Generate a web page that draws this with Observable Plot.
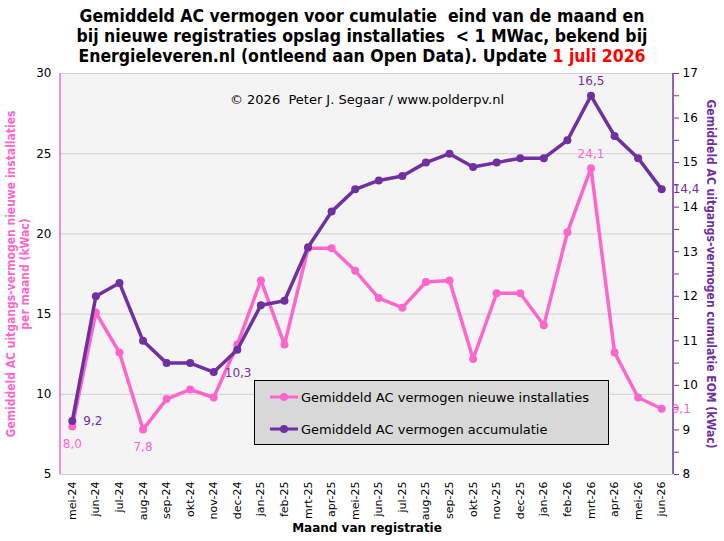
<!DOCTYPE html>
<html><head><meta charset="utf-8">
<script src="https://cdn.jsdelivr.net/npm/d3@7"></script>
<script src="https://cdn.jsdelivr.net/npm/@observablehq/plot@0.6"></script>
<style>
body{margin:0;background:#fff;font-family:"DejaVu Sans",sans-serif;}
#wrap{position:relative;width:724px;height:541px;overflow:hidden;}
#title{height:64px;text-align:center;font-family:"DejaVu Sans Condensed","DejaVu Sans",sans-serif;font-weight:bold;font-size:17.5px;line-height:20px;padding-top:6px;box-sizing:border-box;color:#000;white-space:nowrap;}
#title .red{color:#ff0000;}
#legend{position:absolute;left:254px;top:380px;width:355px;height:65px;box-sizing:border-box;background:#d8d8d8;border:1px solid #000;font-size:13px;}
.row{position:absolute;left:0;height:20px;display:flex;align-items:center;}
.row span{margin-left:2px;}
</style></head>
<body><div id="wrap">
<div id="title">Gemiddeld AC vermogen voor cumulatie&nbsp; eind van de maand en<br>bij nieuwe registraties opslag installaties&nbsp; &lt; 1 MWac, bekend bij<br>Energieleveren.nl (ontleend aan Open Data). Update <span class="red">1 juli 2026</span></div>
<div id="chart"></div>
<div id="legend">
 <div class="row" style="top:6px;left:14px"><svg width="30" height="20"><line x1="1" x2="29" y1="10" y2="10" stroke="#ff66cc" stroke-width="3"/><circle cx="15" cy="10" r="4" fill="#ff66cc"/></svg><span>Gemiddeld AC vermogen nieuwe installaties</span></div>
 <div class="row" style="top:38px;left:14px"><svg width="30" height="20"><line x1="1" x2="29" y1="10" y2="10" stroke="#7030a0" stroke-width="3"/><circle cx="15" cy="10" r="4" fill="#7030a0"/></svg><span>Gemiddeld AC vermogen accumulatie</span></div>
</div>
</div>
<script>
const months = ["mei-24","jun-24","jul-24","aug-24","sep-24","okt-24","nov-24","dec-24",
"jan-25","feb-25","mrt-25","apr-25","mei-25","jun-25","jul-25","aug-25","sep-25","okt-25","nov-25","dec-25",
"jan-26","feb-26","mrt-26","apr-26","mei-26","jun-26"];
const nieuw = [8.0,15.1,12.6,7.8,9.7,10.3,9.8,13.1,17.1,13.1,19.1,19.1,17.7,16.0,15.4,17.0,17.1,12.2,16.3,16.3,14.3,20.1,24.1,12.6,9.8,9.1];
const cumul = [9.2,12.0,12.3,11.0,10.5,10.5,10.3,10.8,11.8,11.9,13.1,13.9,14.4,14.6,14.7,15.0,15.2,14.9,15.0,15.1,15.1,15.5,16.5,15.6,15.1,14.4];
const leftTicks = [5,10,15,20,25,30];
const rightTicks = [8,9,10,11,12,13,14,15,16,17];
const rightMinor = [8.5,9.5,10.5,11.5,12.5,13.5,14.5,15.5,16.5];

const PINK = "#ff66cc", PURPLE = "#7030a0";
// right axis [8,17] mapped onto left axis [5,30]
const toLeft = v => 5 + (v - 8) * 25 / 9;
const fromLeft = v => 8 + (v - 5) * 9 / 25;
const fmt = v => v.toFixed(1).replace(".", ",");

const dataN = months.map((m,i)=>({m, v:nieuw[i], i}));
const dataC = months.map((m,i)=>({m, v:cumul[i], y:toLeft(cumul[i]), i}));
const last = months.length - 1;

const edgeLines = (index, scales, values, dim) => {
  const g = document.createElementNS("http://www.w3.org/2000/svg","g");
  const xl = dim.marginLeft, xr = dim.width - dim.marginRight, yt = dim.marginTop, yb = dim.height - dim.marginBottom;
  g.innerHTML = `<line x1="${xl}" x2="${xl}" y1="${yt}" y2="${yb}" stroke="${PINK}" stroke-width="1.5"/>`+
                `<line x1="${xr}" x2="${xr}" y1="${yt}" y2="${yb}" stroke="${PURPLE}" stroke-width="1.5"/>`;
  return g;
};
const lab = {fontSize: 12, textAnchor: "start"};

const chart = Plot.plot({
  width: 724, height: 477,
  marginTop: 9, marginBottom: 67, marginLeft: 60, marginRight: 51,
  style: {fontFamily: "DejaVu Sans, sans-serif", fontSize: "11px", color: "#000", background: "transparent", overflow: "visible"},
  x: {type: "point", domain: months, padding: 0.5, round: false, label: null},
  y: {domain: [5, 30], label: null},
  marks: [
    Plot.frame({fill: "#f4f4f4", stroke: null}),
    Plot.ruleY(leftTicks, {stroke: "#d0d0d0", strokeWidth: 1}),
    edgeLines,
    Plot.axisY(leftTicks, {anchor: "left", tickSize: 0, tickPadding: 9, fontSize: 12, label: null}),
    Plot.axisY(rightTicks.map(toLeft), {anchor: "right", tickSize: 5, tickPadding: 4, stroke: PURPLE, fontSize: 12, tickFormat: d => Math.round(fromLeft(d)), label: null}),
    Plot.axisY(rightMinor.map(toLeft), {anchor: "right", tickSize: 5, stroke: PURPLE, tickFormat: () => "", label: null}),
    Plot.axisX({tickRotate: -90, tickSize: 0, tickPadding: 7, fontSize: 11, label: null}),
    Plot.line(dataN, {x: "m", y: "v", stroke: PINK, strokeWidth: 3.5}),
    Plot.dot(dataN, {x: "m", y: "v", fill: PINK, r: 4}),
    Plot.line(dataC, {x: "m", y: "y", stroke: PURPLE, strokeWidth: 3.5}),
    Plot.dot(dataC, {x: "m", y: "y", fill: PURPLE, r: 4}),
    // data labels
    Plot.text(dataN.filter(d => d.i === 0 || d.i === 3), {x: "m", y: "v", text: d => fmt(d.v), fill: PINK, fontSize: 12, dy: 18}),
    Plot.text(dataN.filter(d => d.i === 22), {x: "m", y: "v", text: d => fmt(d.v), fill: PINK, fontSize: 12, dy: -14}),
    Plot.text(dataN.filter(d => d.i === last), {x: "m", y: "v", text: d => fmt(d.v), fill: PINK, ...lab, dx: 10}),
    Plot.text(dataC.filter(d => d.i === 0), {x: "m", y: "y", text: d => fmt(d.v), fill: PURPLE, ...lab, dx: 11}),
    Plot.text(dataC.filter(d => d.i === 6), {x: "m", y: "y", text: d => fmt(d.v), fill: PURPLE, ...lab, dx: 11, dy: 1}),
    Plot.text(dataC.filter(d => d.i === last), {x: "m", y: "y", text: d => fmt(d.v), fill: PURPLE, ...lab, dx: 11}),
    Plot.text(dataC.filter(d => d.i === 22), {x: "m", y: "y", text: d => fmt(d.v), fill: PURPLE, fontSize: 12, dy: -15}),
    // titles
    Plot.text(["© 2026  Peter J. Segaar / www.polderpv.nl"], {frameAnchor: "top", dy: 21, fontSize: 13, fill: "#000"}),
    Plot.text(["Gemiddeld AC uitgangs-vermogen nieuwe installaties\nper maand (kWac)"], {frameAnchor: "left", textAnchor: "middle", rotate: -90, dx: -43, fontSize: 12, fontWeight: "bold", fontFamily: "DejaVu Sans Condensed, DejaVu Sans, sans-serif", fill: PINK, lineHeight: 1.15}),
    Plot.text(["Gemiddeld AC uitgangs-vermogen cumulatie EOM (kWac)"], {frameAnchor: "right", textAnchor: "middle", rotate: 90, dx: 37, fontSize: 12, fontWeight: "bold", fontFamily: "DejaVu Sans Condensed, DejaVu Sans, sans-serif", fill: PURPLE}),
    Plot.text(["Maand van registratie"], {frameAnchor: "bottom", dy: 57, fontSize: 12, fontWeight: "bold", fill: "#000"})
  ]
});
document.getElementById("chart").appendChild(chart);
</script>
</body></html>
